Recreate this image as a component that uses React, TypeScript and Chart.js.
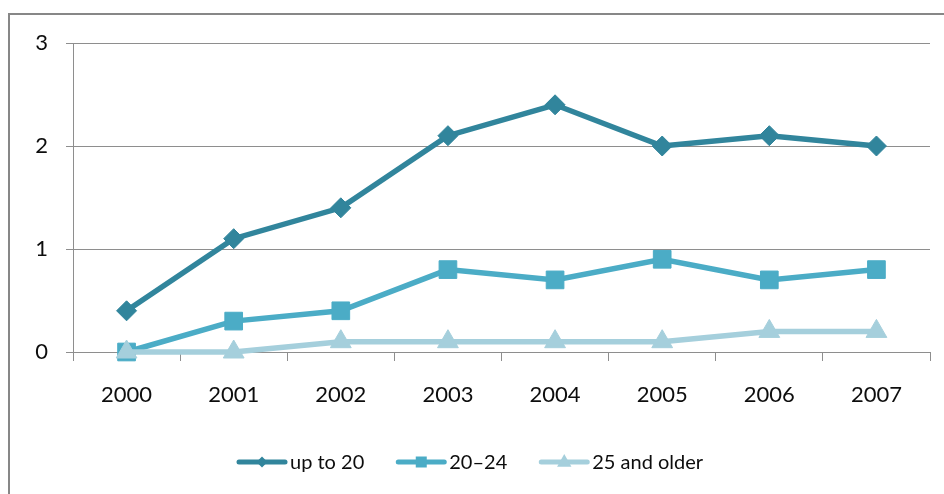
import React, { useEffect, useRef } from "react";
import { Chart, registerables } from "chart.js";

Chart.register(...registerables);

const categories = ["2000", "2001", "2002", "2003", "2004", "2005", "2006", "2007"];
const upTo20 = [0.4, 1.1, 1.4, 2.1, 2.4, 2.0, 2.1, 2.0];
const age20to24 = [0, 0.3, 0.4, 0.8, 0.7, 0.9, 0.7, 0.8];
const age25plus = [0, 0, 0.1, 0.1, 0.1, 0.1, 0.2, 0.2];
const seriesNames = ["up to 20", "20\u201324", "25 and older"];
const yTicks = [0, 1, 2, 3];

const COLORS = ["#31859C", "#4BACC6", "#A5CFDC"];
const FONT = "Lato, 'Open Sans', sans-serif";
const TEXT = "#0d0d0d";

function drawMarker(ctx: CanvasRenderingContext2D, kind: string, x: number, y: number, r: number, color: string) {
  ctx.save();
  ctx.fillStyle = color;
  ctx.beginPath();
  if (kind === "diamond") {
    ctx.moveTo(x, y - r);
    ctx.lineTo(x + r, y);
    ctx.lineTo(x, y + r);
    ctx.lineTo(x - r, y);
    ctx.closePath();
  } else if (kind === "square") {
    ctx.rect(x - r, y - r, 2 * r, 2 * r);
  } else {
    ctx.moveTo(x, y - r);
    ctx.lineTo(x + r * 0.9, y + r * 0.6);
    ctx.lineTo(x - r * 0.9, y + r * 0.6);
    ctx.closePath();
  }
  ctx.fill();
  ctx.restore();
}

const framePlugin = {
  id: "frame",
  beforeDraw(chart: any) {
    const ctx = chart.ctx;
    ctx.save();
    ctx.fillStyle = "#ffffff";
    ctx.fillRect(0, 0, chart.width, chart.height);
    ctx.strokeStyle = "#878787";
    ctx.lineWidth = 2;
    ctx.strokeRect(9, 14, chart.width + 20, chart.height + 20);
    ctx.restore();
  },
};

const legendPlugin = {
  id: "customLegend",
  afterDraw(chart: any) {
    const ctx: CanvasRenderingContext2D = chart.ctx;
    const kinds = ["diamond", "square", "triangle"];
    const sizes = [5.5, 5.5, 8];
    const y = 462;
    let x = 237;
    ctx.save();
    ctx.font = `20px ${FONT}`;
    ctx.textBaseline = "middle";
    ctx.textAlign = "left";
    seriesNames.forEach((name, i) => {
      ctx.strokeStyle = COLORS[i];
      ctx.lineWidth = 5;
      ctx.lineCap = "round";
      ctx.beginPath();
      ctx.moveTo(x + 2, y);
      ctx.lineTo(x + 48, y);
      ctx.stroke();
      drawMarker(ctx, kinds[i], x + 25, y, sizes[i], COLORS[i]);
      ctx.fillStyle = TEXT;
      ctx.fillText(name, x + 53, y + 1);
      x += 53 + ctx.measureText(name).width + 32;
    });
    ctx.restore();
  },
};

export default function App() {
  const ref = useRef<HTMLCanvasElement | null>(null);
  useEffect(() => {
    if (!ref.current) return;
    const chart = new Chart(ref.current, {
      type: "line",
      data: {
        labels: categories,
        datasets: [
          {
            label: seriesNames[0],
            data: upTo20,
            borderColor: COLORS[0],
            backgroundColor: COLORS[0],
            borderWidth: 5.5,
            pointStyle: "rectRot",
            pointRadius: 10,
            pointBorderWidth: 1,
            tension: 0,
            clip: false as any,
            order: 2,
          },
          {
            label: seriesNames[1],
            data: age20to24,
            borderColor: COLORS[1],
            backgroundColor: COLORS[1],
            borderWidth: 5.5,
            pointStyle: "rect",
            pointRadius: 12.5,
            pointBorderWidth: 1,
            tension: 0,
            clip: false as any,
            order: 1,
          },
          {
            label: seriesNames[2],
            data: age25plus,
            borderColor: COLORS[2],
            backgroundColor: COLORS[2],
            borderWidth: 5.5,
            pointStyle: "triangle",
            pointRadius: 12,
            pointBorderWidth: 1,
            tension: 0,
            clip: false as any,
            order: 0,
          },
        ],
      },
      options: {
        responsive: false,
        animation: false,
        events: [],
        layout: { padding: { left: 0, top: 43, right: 14, bottom: 92 } },
        plugins: {
          legend: { display: false },
          tooltip: { enabled: false },
        },
        scales: {
          x: {
            offset: true,
            grid: {
              offset: true,
              drawOnChartArea: false,
              drawTicks: true,
              tickLength: 9,
              color: "#8e8e8e",
            },
            border: { display: true, color: "#8e8e8e", width: 1 },
            ticks: {
              color: TEXT,
              font: { family: FONT, size: 22 },
              padding: 21,
              maxRotation: 0,
            },
            afterFit: (s: any) => {
              s.height = 50;
            },
          },
          y: {
            min: 0,
            max: 3,
            afterBuildTicks: (s: any) => {
              s.ticks = yTicks.map((v) => ({ value: v }));
            },
            grid: {
              color: "#8e8e8e",
              drawTicks: true,
              tickLength: 7,
            },
            border: { display: true, color: "#8e8e8e", width: 1 },
            ticks: {
              color: TEXT,
              font: { family: FONT, size: 22 },
              padding: 18,
            },
            afterFit: (s: any) => {
              s.width = 73;
            },
          },
        },
      },
      plugins: [framePlugin, legendPlugin],
    });
    return () => chart.destroy();
  }, []);
  return (
    <div style={{ position: "absolute", left: 0, top: 0, width: 944, height: 494 }}>
      <canvas ref={ref} width={944} height={494} style={{ width: 944, height: 494, display: "block" }} />
    </div>
  );
}
